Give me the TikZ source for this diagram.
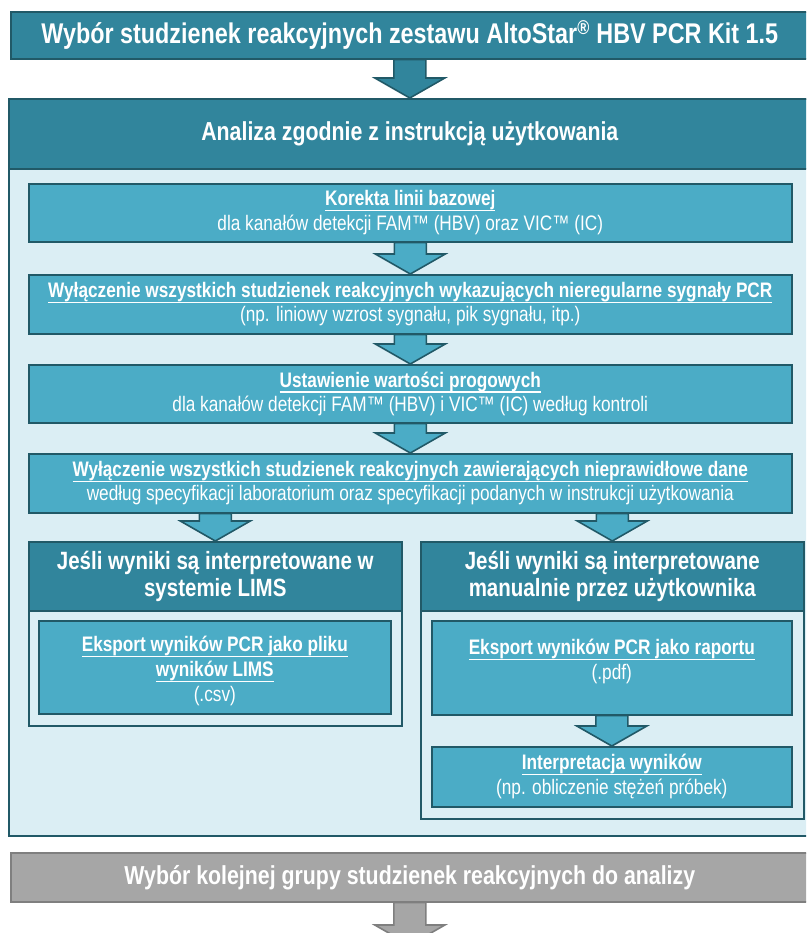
\documentclass[tikz,border=0pt]{standalone}
\usepackage{fontspec}
\setmainfont{Liberation Sans}[FakeStretch=0.82]
\usetikzlibrary{calc}
\definecolor{tealdark}{HTML}{31859C}
\definecolor{tealmid}{HTML}{4BACC6}
\definecolor{teallight}{HTML}{DBEEF4}
\definecolor{tealborder}{HTML}{215967}
\definecolor{grayfill}{HTML}{A6A6A6}
\definecolor{grayborder}{HTML}{7F7F7F}
\newsavebox\ulbox
\newcommand\myul[1]{\sbox\ulbox{#1}\makebox[0pt][l]{\raisebox{-5.5pt}{\rule{\wd\ulbox}{1.2pt}}}\usebox\ulbox}
\newcommand\blockarrow[3]{%
  \draw[#1] let \p1=(#2), \p2=(#3) in
   (\x1-16pt,\y1) -- (\x1+16pt,\y1) -- (\x1+16pt,\y2+20pt) -- (\x1+35pt,\y2+20pt)
   -- (\x1,\y2) -- (\x1-35pt,\y2+20pt) -- (\x1-16pt,\y2+20pt) -- cycle;}
\tikzset{
  base/.style={rectangle, inner sep=0pt, anchor=north west, line width=1.6pt, text=white, align=center},
  darkbox/.style={base, draw=tealborder, fill=tealdark},
  midbox/.style={base, draw=tealborder, fill=tealmid, font=\fontsize{21}{24.5}\selectfont},
  lightbox/.style={base, draw=tealborder, fill=teallight},
  graybox/.style={base, draw=grayborder, fill=grayfill},
  txt/.style={text=white, align=center, inner sep=0pt, font=\fontsize{21}{25}\selectfont},
  arrdark/.style={draw=tealborder, fill=tealdark, line width=1.6pt, line join=miter},
  arrmid/.style={draw=tealborder, fill=tealmid, line width=1.6pt, line join=miter},
  arrgray/.style={draw=grayborder, fill=grayfill, line width=1.6pt, line join=miter},
  titlefont/.style={font=\bfseries\fontsize{28.5}{32}\selectfont},
  headfont/.style={font=\bfseries\fontsize{26}{30}\selectfont},
  subfont/.style={font=\bfseries\fontsize{25}{27}\selectfont}
}
\begin{document}
\begin{tikzpicture}[x=1pt,y=-1pt]
\useasboundingbox (0,0) rectangle (806,933);
\clip (0,0) rectangle (806,933);
\fill[white] (0,0) rectangle (806,933);
% main container
\node[lightbox, minimum width=802pt, minimum height=737pt] (main) at (8,98) {};
\node[darkbox, headfont, minimum width=802pt, minimum height=70pt] (mainhead) at (8,98) {Analiza zgodnie z instrukcją użytkowania};
% steps
\node[midbox, minimum width=763pt, minimum height=58pt] (b1) at (28,183)
  {\textbf{\myul{Korekta linii bazowej}}\\dla kanałów detekcji FAM™ (HBV) oraz VIC™ (IC)};
\node[midbox, minimum width=763pt, minimum height=59pt] (b2) at (28,274)
  {\textbf{\myul{Wyłączenie wszystkich studzienek reakcyjnych wykazujących nieregularne sygnały PCR}}\\(np. liniowy wzrost sygnału, pik sygnału, itp.)};
\node[midbox, minimum width=763pt, minimum height=58pt] (b3) at (28,364)
  {\textbf{\myul{Ustawienie wartości progowych}}\\dla kanałów detekcji FAM™ (HBV) i VIC™ (IC) według kontroli};
\node[midbox, minimum width=763pt, minimum height=59pt] (b4) at (28,453)
  {\textbf{\myul{Wyłączenie wszystkich studzienek reakcyjnych zawierających nieprawidłowe dane}}\\według specyfikacji laboratorium oraz specyfikacji podanych w instrukcji użytkowania};
% left branch
\node[lightbox, minimum width=373pt, minimum height=184pt] (lc) at (28,541) {};
\node[darkbox, subfont, minimum width=373pt, minimum height=69pt] (lh) at (28,541)
  {Jeśli wyniki są interpretowane w\\systemie LIMS};
\node[midbox, minimum width=352pt, minimum height=93pt] (li) at (38,620) {};
\node[txt, anchor=center] (lit) at ($(li.center)+(0,4)$)
  {\textbf{\myul{Eksport wyników PCR jako pliku}}\\\textbf{\myul{wyników LIMS}}\\(.csv)};
% right branch
\node[lightbox, minimum width=383pt, minimum height=277pt] (rc) at (420,541) {};
\node[darkbox, subfont, minimum width=383pt, minimum height=69pt] (rh) at (420,541)
  {Jeśli wyniki są interpretowane\\manualnie przez użytkownika};
\node[midbox, minimum width=360pt, minimum height=94pt] (r1) at (431,620) {};
\node[txt, anchor=north] (r1t) at ($(r1.north)+(0,19)$)
  {\textbf{\myul{Eksport wyników PCR jako raportu}}\\(.pdf)};
\node[midbox, minimum width=360pt, minimum height=60pt, font=\fontsize{21}{25}\selectfont] (r2) at (431,746)
  {\textbf{\myul{Interpretacja wyników}}\\(np. obliczenie stężeń próbek)};
% arrows inside
\blockarrow{arrmid}{b1.south}{b2.north}
\blockarrow{arrmid}{b2.south}{b3.north}
\blockarrow{arrmid}{b3.south}{b4.north}
\blockarrow{arrmid}{b4.south -| lh.north}{lh.north}
\blockarrow{arrmid}{b4.south -| rh.north}{rh.north}
\blockarrow{arrmid}{r1.south}{r2.north}
% title
\node[darkbox, titlefont, minimum width=798pt, minimum height=47pt] (title) at (10,11)
  {Wybór studzienek reakcyjnych zestawu AltoStar\textsuperscript{®} HBV PCR Kit 1.5};
\blockarrow{arrdark}{title.south -| mainhead.north}{mainhead.north}
% gray
\node[graybox, headfont, minimum width=798pt, minimum height=49pt] (gray) at (10,852)
  {Wybór kolejnej grupy studzienek reakcyjnych do analizy};
\coordinate (gend) at (409,945);
\blockarrow{arrgray}{gray.south}{gend}
\end{tikzpicture}
\end{document}
